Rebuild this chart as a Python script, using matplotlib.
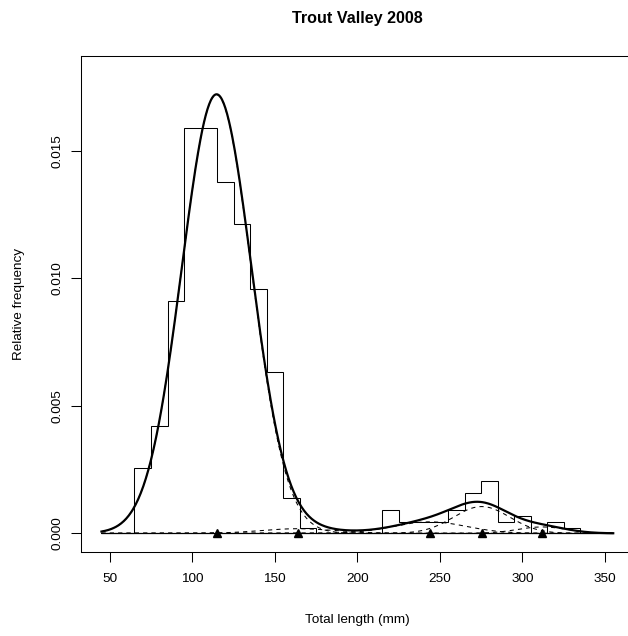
import numpy as np
import matplotlib
matplotlib.use("Agg")
import matplotlib.pyplot as plt

plt.rcParams['font.family'] = ['Liberation Sans', 'DejaVu Sans']

# histogram of total length, 10 mm bins from 45 to 355 mm
bin_edges = list(range(45, 356, 10))
rel_freq = [0.0, 0.0, 0.00255, 0.00420, 0.00910, 0.01588, 0.01588, 0.01376,
            0.01211, 0.00957, 0.00631, 0.00137, 0.00021, 0.0, 0.0, 0.0, 0.0,
            0.00093, 0.00045, 0.00045, 0.00045, 0.00093, 0.00160, 0.00207,
            0.00045, 0.00068, 0.0, 0.00046, 0.00021, 0.0, 0.0]

# fitted mixture components (proportion, mean, sd)
comp_prop = [0.905, 0.010, 0.0248, 0.0447, 0.0094]
comp_mean = [114.7, 164.0, 244.0, 275.3, 312.0]
comp_sd = [21.0, 22.0, 22.0, 17.0, 15.0]

x_ticks = [50, 100, 150, 200, 250, 300, 350]
y_ticks = [0.0, 0.005, 0.010, 0.015]
y_tick_labels = ["0.000", "0.005", "0.010", "0.015"]


def normal_density(x, mu, sd):
    return np.exp(-0.5 * ((x - mu) / sd) ** 2) / (sd * np.sqrt(2 * np.pi))


W, H = 628, 636
fig = plt.figure(figsize=(W / 100, H / 100), dpi=100)
left, right, top, bottom = 81, 633.7, 55.7, 551.7
ax = fig.add_axes([left / W, 1 - bottom / H, (right - left) / W, (bottom - top) / H])

# component densities and total
xs = np.linspace(bin_edges[0], bin_edges[-1], 600)
total = np.zeros_like(xs)
for p, mu, sd in zip(comp_prop, comp_mean, comp_sd):
    dens = p * normal_density(xs, mu, sd)
    total += dens
    ax.plot(xs, dens, color='black', linewidth=0.75, linestyle=(0, (4, 4)))

# histogram outline with a solid base line
ax.stairs(rel_freq, bin_edges, color='black', linewidth=0.75)
ax.hlines(0, bin_edges[0], bin_edges[-1], color='black', linewidth=0.9)

ax.plot(xs, total, color='black', linewidth=1.6)

# component means on the axis
ax.plot(comp_mean, [0] * len(comp_mean), linestyle='none', marker='^',
        color='black', markersize=5.5, clip_on=False)

# R style axis ranges (4% padding)
ax.set_xlim(32.6, 367.4)
ax.set_ylim(-0.00072, 0.01872)

ax.set_xticks(x_ticks)
ax.set_xticklabels([str(t) for t in x_ticks])
ax.set_yticks(y_ticks)
ax.set_yticklabels(y_tick_labels, rotation=90, va='center')
ax.tick_params(axis='both', direction='out', length=7, width=0.75,
               labelsize=9.7, colors='black')
ax.tick_params(axis='x', pad=8.5)
ax.tick_params(axis='y', pad=5.5)
for sp in ax.spines.values():
    sp.set_linewidth(0.75)

cx = (left + right) / 2 / W
fig.text(cx, 1 - 19 / H, "Trout Valley 2008", ha='center', va='center',
         fontsize=11.6, fontweight='bold')
fig.text(cx, 1 - 620 / H, "Total length (mm)", ha='center', va='center', fontsize=9.7)
fig.text(19 / W, 1 - (top + bottom) / 2 / H, "Relative frequency", ha='center',
         va='center', rotation=90, fontsize=9.7)

fig.savefig("out.png", dpi=100)
